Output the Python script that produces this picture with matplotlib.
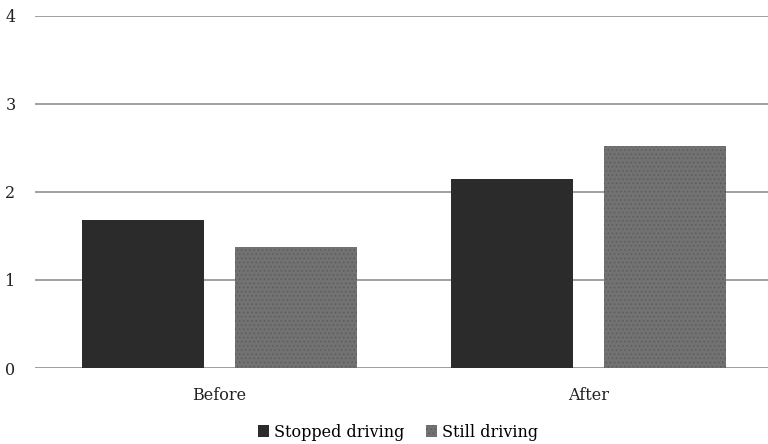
import matplotlib
matplotlib.use("Agg")
import matplotlib.pyplot as plt
import numpy as np

categories = ["Before", "After"]
series_names = ["Stopped driving", "Still driving"]
stopped = [1.68, 2.15]
still = [1.375, 2.52]
yticks = [0, 1, 2, 3, 4]

plt.rcParams['font.family'] = ['DejaVu Serif', 'Liberation Serif']
plt.rcParams['hatch.linewidth'] = 0.6

fig = plt.figure(figsize=(7.68, 4.44), dpi=100)
ax = fig.add_axes([35/768, (444-368)/444, 738/768, 352/444])

x = np.arange(len(categories))
w = 0.33
off = 0.208
ax.bar(x - off, stopped, w, color="#2b2b2b", label=series_names[0], zorder=3)
ax.bar(x + off, still, w, color="#727272", edgecolor="#5c5c5c", hatch="....", linewidth=0,
       label=series_names[1], zorder=3)

ax.set_xlim(-0.5, 1.5)
ax.set_ylim(0, 4)
ax.set_yticks(yticks)
ax.set_xticks(x)
ax.set_xticklabels(categories)
ax.yaxis.grid(True, color="#a0a0a0", linewidth=1.4, zorder=0)
ax.set_axisbelow(True)
for s in ["top", "right", "left", "bottom"]:
    ax.spines[s].set_visible(False)
ax.axhline(0, color="#a0a0a0", linewidth=1.4, zorder=1)
ax.tick_params(axis="both", length=0, labelsize=11.5, colors="#222222")
ax.tick_params(axis="y", pad=14)
ax.tick_params(axis="x", pad=14)

leg = fig.legend(loc="center", bbox_to_anchor=(398/768, (444-432)/444), ncol=2, frameon=False,
                 fontsize=11.5, handlelength=0.7, handleheight=0.7, handletextpad=0.3, columnspacing=1.4)

fig.savefig("out.png", dpi=100)
